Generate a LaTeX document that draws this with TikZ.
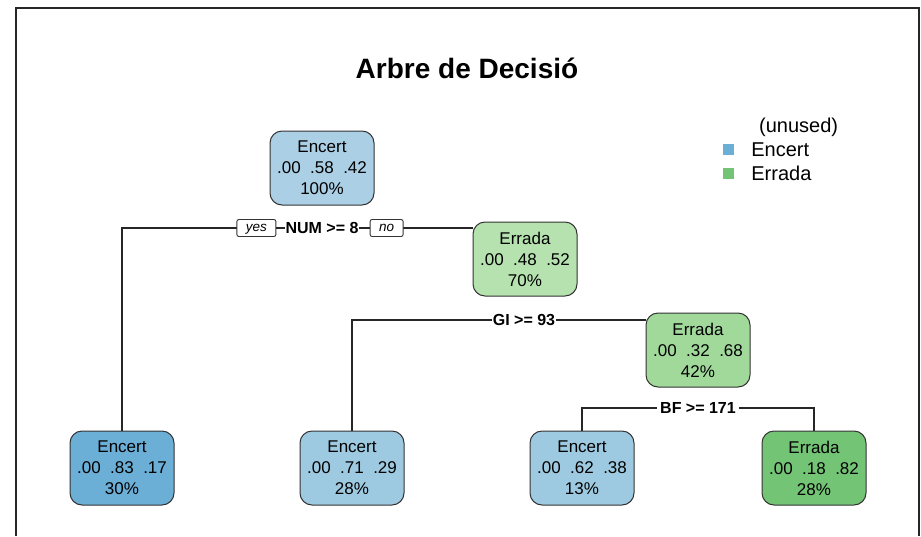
\documentclass[tikz,border=0pt]{standalone}
\usepackage{fontspec}
\setmainfont{Liberation Sans}
\usetikzlibrary{positioning,backgrounds}
\definecolor{encertleaf}{RGB}{107,174,214}
\definecolor{encertmid}{RGB}{158,202,225}
\definecolor{encertlight}{RGB}{171,207,229}
\definecolor{erradaleaf}{RGB}{116,196,118}
\definecolor{erradamid}{RGB}{161,217,155}
\definecolor{erradalight}{RGB}{181,226,174}
\newcommand{\probs}[2]{.00\ \ .#1\ \ .#2}
\tikzset{
  tree node/.style={draw=black!80,line width=1pt,rounded corners=12pt,minimum width=104pt,
    minimum height=74pt,align=center,inner sep=0pt,font=\fontsize{17}{21}\selectfont},
  tree split/.style={fill=white,inner sep=1pt,font=\fontsize{16}{18}\selectfont\bfseries},
  tree branch/.style={draw=black!85,line width=1.1pt},
  tree tag/.style={draw=black!80,line width=0.9pt,fill=white,rounded corners=2pt,minimum height=17pt,
    inner xsep=4pt,inner ysep=0pt,text depth=1pt,font=\fontsize{13.5}{15}\selectfont\itshape},
  tree key/.style={minimum size=11pt,inner sep=0pt},
  tree legend/.style={font=\fontsize{20}{22}\selectfont,anchor=west,inner sep=0pt}
}

\begin{document}
\begin{tikzpicture}[x=1pt,y=-1pt]
  \useasboundingbox (0,0) rectangle (921,536);
  \draw[line width=2pt,draw=black!85] (15.5,536)--(15.5,8)--(919,8)--(919,536);
  \node[font=\fontsize{28}{32}\selectfont\bfseries] (title) at (467,68) {Arbre de Decisió};

  \node[tree node,fill=encertlight] (root) at (322,168) {Encert\\\probs{58}{42}\\100\%};
  \node[tree node,fill=erradalight] (n2) at (525,259) {Errada\\\probs{48}{52}\\70\%};
  \node[tree node,fill=erradamid] (n3) at (698,350) {Errada\\\probs{32}{68}\\42\%};
  \node[tree node,fill=encertleaf] (leafA) at (122,468) {Encert\\\probs{83}{17}\\30\%};
  \node[tree node,fill=encertmid] (leafB) at (352,468) {Encert\\\probs{71}{29}\\28\%};
  \node[tree node,fill=encertmid] (leafC) at (582,468) {Encert\\\probs{62}{38}\\13\%};
  \node[tree node,fill=erradaleaf] (leafD) at (814,468) {Errada\\\probs{18}{82}\\28\%};

  \node[tree split] (num) at (322,228) {NUM >= 8};
  \node[tree tag,minimum width=39pt,left=8pt of num] (yes) {yes};
  \node[tree tag,minimum width=33pt,right=10pt of num] (no) {no};
  \node[tree split] (gi) at (524,320) {GI >= 93};
  \node[tree split,inner xsep=3pt] (bf) at (698,408) {BF >= 171};

  \begin{scope}[on background layer]
    \draw[tree branch] (leafA.north) |- (n2.west |- num.center);
    \draw[tree branch] (leafB.north) |- (n3.west |- gi.center);
    \draw[tree branch] (leafC.north) |- (bf.center) -| (leafD.north);
  \end{scope}

  \node[tree legend] (unused) at (759,127) {(unused)};
  \node[tree key,fill=encertleaf] (keyA) at (728.5,149.5) {};
  \node[tree legend,right=17pt of keyA] (labA) {Encert};
  \node[tree key,fill=erradaleaf] (keyB) at (728.5,173) {};
  \node[tree legend,right=17pt of keyB] (labB) {Errada};
\end{tikzpicture}
\end{document}
